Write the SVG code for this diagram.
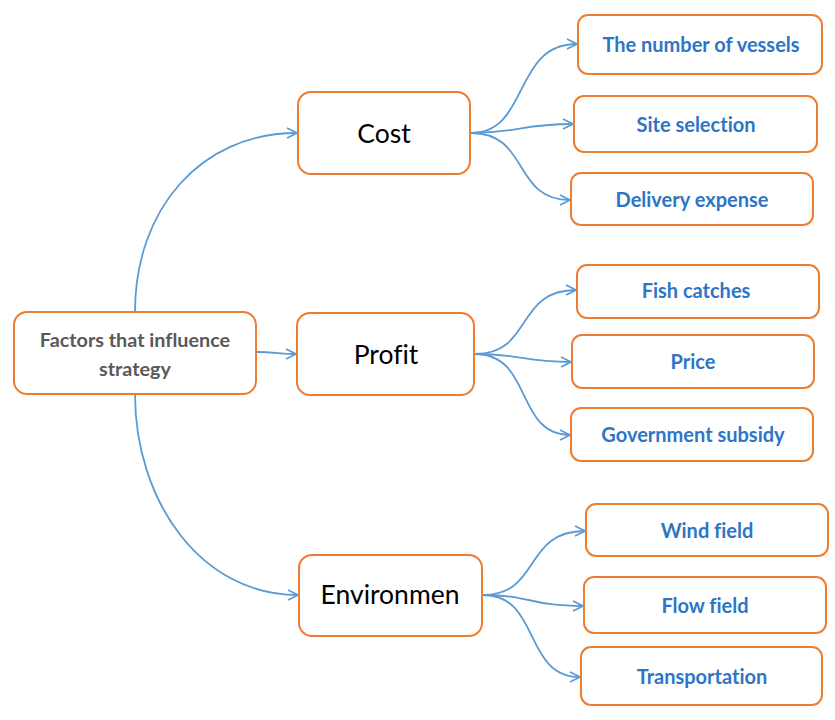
<svg xmlns="http://www.w3.org/2000/svg" width="835" height="720" viewBox="0 0 835 720">
<style>
text{font-variant-ligatures:none}
.box{fill:#ffffff;stroke:#ED7D31;stroke-width:2}
.root{font-family:Lato,"Liberation Sans",sans-serif;font-weight:bold;font-size:19.8px;fill:#595959;text-anchor:middle}
.main{font-family:Lato,"Liberation Sans",sans-serif;font-size:26.5px;fill:#000000;text-anchor:middle}
.leaf{font-family:Lato,"Liberation Sans",sans-serif;font-weight:bold;font-size:20px;fill:#2E75C6;text-anchor:middle}
.con{fill:none;stroke:#5B9BD5;stroke-width:1.8;marker-end:url(#arr)}
</style>
<defs>
<marker id="arr" viewBox="0 0 12 12" refX="11" refY="6" markerWidth="12" markerHeight="12" markerUnits="userSpaceOnUse" orient="auto">
<path d="M1,1 L11,6 L1,11" fill="none" stroke="#5B9BD5" stroke-width="1.6"/>
</marker>
</defs>
<g id="connectors">
<path class="con" d="M135,312 C135,210 200,133 297,133"/>
<path class="con" d="M257,352 C275,352 280,354 296,354"/>
<path class="con" d="M135,394 C135,500 200,595 298,595"/>
<path class="con" d="M471,133 C530,133 512,44 577,44"/>
<path class="con" d="M471,133 C520,133 520,124 573,124"/>
<path class="con" d="M471,133 C530,133 512,200 570,200"/>
<path class="con" d="M475,354 C533,354 515,290 576,290"/>
<path class="con" d="M475,354 C522,354 522,362 571,362"/>
<path class="con" d="M475,354 C533,354 515,435 570,435"/>
<path class="con" d="M483,595 C541,595 523,531 585,531"/>
<path class="con" d="M483,595 C530,595 530,606 583,606"/>
<path class="con" d="M483,595 C541,595 523,677 580,677"/>
</g>
<g id="root">
<rect class="box" x="14" y="312" width="242" height="82" rx="13"/>
<text class="root" x="135" y="347">Factors that influence</text>
<text class="root" x="135" y="376">strategy</text>
</g>
<g id="cost">
<rect class="box" x="298" y="92" width="172" height="82" rx="13"/>
<text class="main" x="384" y="143">Cost</text>
</g>
<g id="profit">
<rect class="box" x="297" y="313" width="177" height="82" rx="13"/>
<text class="main" x="386" y="364">Profit</text>
</g>
<g id="environment">
<rect class="box" x="299" y="555" width="183" height="81" rx="13"/>
<text class="main" x="390" y="604">Environmen</text>
</g>
<g id="vessels">
<rect class="box" x="578" y="15" width="244" height="59" rx="10"/>
<text class="leaf" x="701" y="52">The number of vessels</text>
</g>
<g id="site">
<rect class="box" x="574" y="96" width="243" height="56" rx="10"/>
<text class="leaf" x="696" y="132">Site selection</text>
</g>
<g id="delivery">
<rect class="box" x="571" y="173" width="242" height="52" rx="10"/>
<text class="leaf" x="692" y="207">Delivery expense</text>
</g>
<g id="fish">
<rect class="box" x="577" y="265" width="242" height="53" rx="10"/>
<text class="leaf" x="696" y="298">Fish catches</text>
</g>
<g id="price">
<rect class="box" x="572" y="335" width="242" height="53" rx="10"/>
<text class="leaf" x="693" y="369">Price</text>
</g>
<g id="subsidy">
<rect class="box" x="571" y="408" width="242" height="53" rx="10"/>
<text class="leaf" x="693" y="442">Government subsidy</text>
</g>
<g id="wind">
<rect class="box" x="586" y="504" width="242" height="52" rx="10"/>
<text class="leaf" x="707" y="538">Wind field</text>
</g>
<g id="flow">
<rect class="box" x="584" y="577" width="242" height="56" rx="10"/>
<text class="leaf" x="705" y="613">Flow field</text>
</g>
<g id="transport">
<rect class="box" x="581" y="647" width="241" height="58" rx="10"/>
<text class="leaf" x="702" y="684">Transportation</text>
</g>
</svg>
